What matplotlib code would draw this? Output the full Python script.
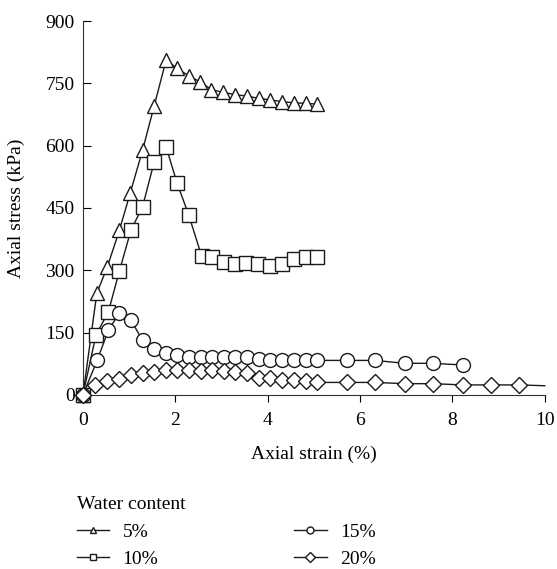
import numpy as np
import matplotlib.pyplot as plt
from matplotlib.lines import Line2D

plt.rcParams['font.family'] = ['Liberation Serif', 'DejaVu Serif']

# 5% water content
x5 = [0, 0.30, 0.53, 0.79, 1.02, 1.29, 1.54, 1.80, 2.04, 2.29, 2.53, 2.78,
      3.04, 3.30, 3.56, 3.81, 4.06, 4.31, 4.57, 4.82, 5.07]
y5 = [0, 245, 309, 397, 485, 589, 695, 806, 786, 768, 754, 735,
      728, 723, 719, 714, 710, 706, 703, 702, 700]

# 10% water content
x10 = [0, 0.28, 0.55, 0.79, 1.04, 1.29, 1.54, 1.80, 2.04, 2.29, 2.57, 2.80,
       3.05, 3.29, 3.54, 3.80, 4.06, 4.31, 4.57, 4.82, 5.07]
y10 = [0, 144, 200, 299, 397, 453, 560, 597, 509, 433, 334, 331,
       321, 315, 317, 316, 310, 316, 328, 333, 331]

# 15% water content
x15 = [0, 0.31, 0.55, 0.79, 1.04, 1.29, 1.54, 1.80, 2.04, 2.29, 2.55, 2.80,
       3.05, 3.30, 3.56, 3.81, 4.06, 4.31, 4.57, 4.82, 5.07, 5.71, 6.32,
       6.97, 7.58, 8.22]
y15 = [0, 84, 156, 197, 180, 131, 110, 100, 96, 92, 92, 92,
       92, 92, 91, 87, 83, 83, 83, 83, 83, 83, 83,
       76, 76, 72]

# 20% water content (last point is the line end, no marker)
x20 = [0, 0.26, 0.53, 0.79, 1.04, 1.29, 1.54, 1.80, 2.04, 2.29, 2.55, 2.80,
       3.05, 3.30, 3.56, 3.81, 4.06, 4.31, 4.57, 4.82, 5.07, 5.71, 6.32,
       6.97, 7.58, 8.22, 8.84, 9.45, 10.0]
y20 = [0, 24, 34, 38, 47, 52, 56, 60, 60, 60, 58, 60,
       57, 56, 52, 40, 40, 37, 35, 33, 30, 30, 30,
       27, 27, 24, 24, 24, 22]

series = [
    (x5, y5, '^', '5%', 10.5),
    (x10, y10, 's', '10%', 9.5),
    (x15, y15, 'o', '15%', 10),
    (x20, y20, 'D', '20%', 8),
]

fig = plt.figure(figsize=(5.57, 5.69), dpi=100)
ax = fig.add_axes([0.149, 0.306, 0.829, 0.657])

for x, y, m, lab, ms in series:
    ax.plot(x, y, color='#1a1a1a', lw=1.0, clip_on=False)
    n = len(x) - 1 if lab == '20%' else len(x)
    ax.plot(x[:n], y[:n], ls='none', marker=m, ms=ms, mfc='white',
            mec='#1a1a1a', mew=1.0, clip_on=False, zorder=3)

ax.set_xlim(0, 10)
ax.set_ylim(0, 900)
ax.set_xticks(np.arange(0, 11, 2))
ax.set_yticks(np.arange(0, 901, 150))
ax.spines['top'].set_visible(False)
ax.spines['right'].set_visible(False)
ax.spines['left'].set_color('#333333')
ax.spines['bottom'].set_color('#333333')
ax.tick_params(axis='y', direction='in', length=6, labelsize=14, pad=6)
ax.tick_params(axis='x', direction='out', length=5, labelsize=14, pad=7)
ax.set_xlabel('Axial strain (%)', fontsize=14, labelpad=12)
ax.set_ylabel('Axial stress (kPa)', fontsize=14, labelpad=15)

handles = [Line2D([], [], color='#1a1a1a', lw=1.0, marker=m, ms=5,
                  mfc='white', mec='#1a1a1a', label=lab)
           for _, _, m, lab, _ in series]
fig.legend(handles=handles, loc='upper left', bbox_to_anchor=(0.138, 0.128),
           ncol=2, frameon=False, fontsize=14, title='Water content',
           title_fontsize=14, alignment='left', handlelength=1.65,
           handletextpad=0.7, columnspacing=7.0, labelspacing=0.5,
           borderaxespad=0, borderpad=0)

fig.savefig('out.png', dpi=100)
